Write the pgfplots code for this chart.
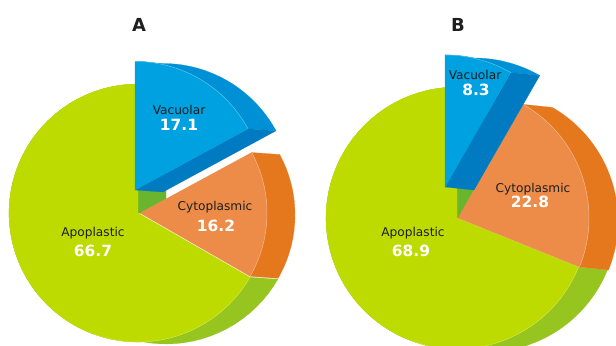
\documentclass[border=0pt]{standalone}
\usepackage{pgfplots}
\pgfplotsset{compat=1.18}
\usepackage{pgfplotstable}
\usepackage{fontspec}
\setmainfont{DejaVu Sans}

\definecolor{gtop}{RGB}{190,219,0}
\definecolor{grim}{RGB}{150,197,31}
\definecolor{gwall}{RGB}{106,181,46}
\definecolor{btop}{RGB}{0,161,224}
\definecolor{bmid}{RGB}{0,144,214}
\definecolor{bdark}{RGB}{0,123,194}
\definecolor{otop}{RGB}{236,140,72}
\definecolor{orim}{RGB}{229,120,28}
\definecolor{lbl}{RGB}{30,30,30}

% percentages
\pgfplotstableread{
part value
Vacuolar 17.1
Cytoplasmic 16.2
Apoplastic 66.7
}\dataA
\pgfplotstableread{
part value
Vacuolar 8.3
Cytoplasmic 22.8
Apoplastic 68.9
}\dataB

% sector: color, cx, cy, r, a_from, a_to (ascending)
\newcommand\sector[6]{%
  \addplot[draw=#1, line width=0.2pt, fill=#1, domain=#5:#6, samples=90]
    ({#2+(#4)*cos(x)},{#3+(#4)*sin(x)}) -- (axis cs:#2,#3) -- cycle;}
% highlight arc: color, cx, cy, r, a_from, a_to
\newcommand\edgearc[6]{%
  \addplot[draw=#1, line width=0.5pt, domain=#5:#6, samples=60]
    ({#2+(#4)*cos(x)},{#3+(#4)*sin(x)});}
% outer wall band: color, cx, cy, r, a1, a2, dx, dy
\newcommand\band[8]{%
  \addplot[draw=#1, line width=0.2pt, fill=#1, domain=0:3, samples=181]
    ({#2 + (#7)*min(max(x-1,0),1) + (#4)*cos(#5 + (#6-(#5))*(min(x,1)-max(x-2,0)))},
     {#3 + (#8)*min(max(x-1,0),1) + (#4)*sin(#5 + (#6-(#5))*(min(x,1)-max(x-2,0)))}) -- cycle;}
% radial wall: color, cx, cy, r, angle, dx, dy
\newcommand\wall[7]{%
  \addplot[draw=#1, line width=0.2pt, fill=#1, samples at={0,1,2,3}]
    ({#2 + (#6)*min(max(x-1,0),1) + (#4)*(min(x,1)-max(x-2,0))*cos(#5)},
     {#3 + (#7)*min(max(x-1,0),1) + (#4)*(min(x,1)-max(x-2,0))*sin(#5)}) -- cycle;}

\begin{document}
\begin{tikzpicture}
\pgfplotstablegetelem{0}{value}\of\dataA \let\vacA\pgfplotsretval
\pgfplotstablegetelem{1}{value}\of\dataA \let\cytA\pgfplotsretval
\pgfplotstablegetelem{2}{value}\of\dataA \let\apoA\pgfplotsretval
\pgfplotstablegetelem{0}{value}\of\dataB \let\vacB\pgfplotsretval
\pgfplotstablegetelem{1}{value}\of\dataB \let\cytB\pgfplotsretval
\pgfplotstablegetelem{2}{value}\of\dataB \let\apoB\pgfplotsretval
\pgfmathsetmacro\aAone{90-3.6*\vacA}
\pgfmathsetmacro\aAtwo{\aAone-3.6*\cytA}
\pgfmathsetmacro\aAthree{\aAtwo+360}
\pgfmathsetmacro\aBone{90-3.6*\vacB}
\pgfmathsetmacro\aBtwo{\aBone-3.6*\cytB}
\pgfmathsetmacro\aBthree{\aBtwo+360}
\useasboundingbox (0,0) rectangle (616bp,346bp);
\begin{axis}[at={(0,0)}, anchor=south west, scale only axis,
  width=616bp, height=346bp, xmin=0, xmax=616, ymin=0, ymax=346,
  hide axis, clip=true]
% ---------- A ----------
\band{grim}{138}{133}{129}{90}{\aAthree}{28}{-2}
\band{orim}{140}{133}{127}{\aAtwo}{\aAone}{28}{-2}
\wall{gwall}{138}{133}{129}{90}{28}{-2}
\sector{gtop}{138}{133}{129}{90}{\aAthree}
\sector{otop}{140}{133}{127}{\aAtwo}{\aAone}
\edgearc{gtop!70!white}{138}{133}{129}{250}{\aAthree}
\edgearc{otop!65!white}{140}{133}{127}{\aAtwo}{\aAone}
\band{bmid}{135}{156}{128.5}{\aAone}{90}{28}{-2}
\wall{bdark}{135}{156}{128.5}{\aAone}{28}{-2}
\sector{btop}{135}{156}{128.5}{\aAone}{90}
\edgearc{btop!65!white}{135}{156}{128.5}{\aAone}{90}
% ---------- B ----------
\band{grim}{457}{128}{131}{90}{\aBthree}{29}{-3}
\band{orim}{458}{128}{131}{\aBtwo}{\aBone}{29}{-3}
\wall{gwall}{457}{128}{131}{90}{29}{-3}
\sector{gtop}{457}{128}{131}{90}{\aBthree}
\sector{otop}{458}{128}{131}{\aBtwo}{\aBone}
\edgearc{gtop!70!white}{457}{128}{131}{250}{\aBthree}
\edgearc{otop!65!white}{458}{128}{131}{\aBtwo}{\aBone}
\band{bmid}{445}{159}{132}{\aBone}{90}{29}{-3}
\wall{bdark}{445}{159}{132}{\aBone}{29}{-3}
\sector{btop}{445}{159}{132}{\aBone}{90}
\edgearc{btop!65!white}{445}{159}{132}{\aBone}{90}
% ---------- labels ----------
\begin{scope}[every node/.style={anchor=base, inner sep=0pt}]
\node[font=\fontsize{18}{20}\selectfont\bfseries, text=lbl] at (axis cs:139,314) {A};
\node[font=\fontsize{18}{20}\selectfont\bfseries, text=lbl] at (axis cs:458,314) {B};
\node[font=\fontsize{12.2}{14}\selectfont, text=lbl] at (axis cs:179,231) {Vacuolar};
\node[font=\fontsize{15.5}{17}\selectfont\bfseries, text=white] at (axis cs:179,215) {\vacA};
\node[font=\fontsize{12.2}{14}\selectfont, text=lbl] at (axis cs:215,135) {Cytoplasmic};
\node[font=\fontsize{15.5}{17}\selectfont\bfseries, text=white] at (axis cs:216,114) {\cytA};
\node[font=\fontsize{12.2}{14}\selectfont, text=lbl] at (axis cs:93,109) {Apoplastic};
\node[font=\fontsize{15.5}{17}\selectfont\bfseries, text=white] at (axis cs:93,89) {\apoA};
\node[font=\fontsize{12.2}{14}\selectfont, text=lbl] at (axis cs:475,266) {Vacuolar};
\node[font=\fontsize{15.5}{17}\selectfont\bfseries, text=white] at (axis cs:476,250) {\vacB};
\node[font=\fontsize{12.2}{14}\selectfont, text=lbl] at (axis cs:533,153) {Cytoplasmic};
\node[font=\fontsize{15.5}{17}\selectfont\bfseries, text=white] at (axis cs:530,138) {\cytB};
\node[font=\fontsize{12.2}{14}\selectfont, text=lbl] at (axis cs:413,109) {Apoplastic};
\node[font=\fontsize{15.5}{17}\selectfont\bfseries, text=white] at (axis cs:411,89) {\apoB};
\end{scope}
\end{axis}
\end{tikzpicture}
\end{document}
